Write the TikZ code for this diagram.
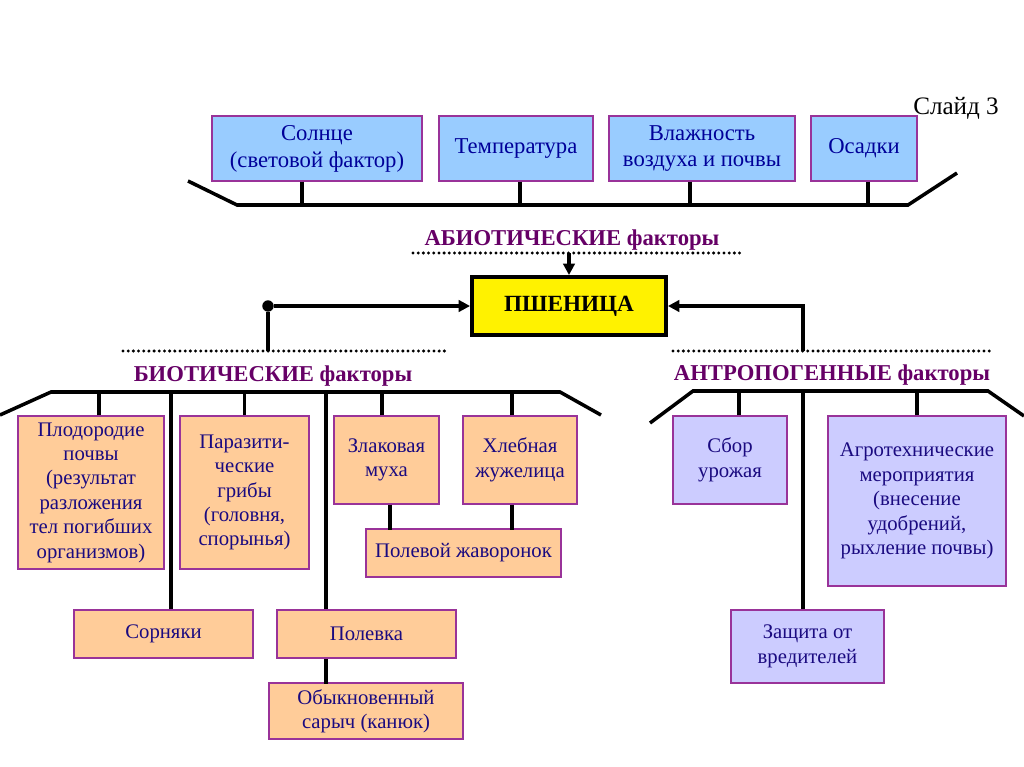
\documentclass[tikz,border=0pt]{standalone}
\usepackage{fontspec}
\setmainfont{Liberation Serif}
\usetikzlibrary{arrows.meta}
\definecolor{skyfill}{HTML}{99CCFF}
\definecolor{peachfill}{HTML}{FFCC99}
\definecolor{lilacfill}{HTML}{CCCCFF}
\definecolor{boxline}{HTML}{993399}
\definecolor{topink}{HTML}{000099}
\definecolor{lowink}{HTML}{1A0A80}
\definecolor{headink}{HTML}{660066}
\tikzset{
    abiotic/.style = {
        rectangle, draw=boxline, line width=0.8pt,
        fill=skyfill, text=topink,
        inner sep=0pt, align=center,
        font=\fontsize{12.9}{15.3}\selectfont
    },
    biotic/.style = {
        rectangle, draw=boxline, line width=0.8pt,
        fill=peachfill, text=lowink,
        inner sep=0pt, align=center,
        font=\fontsize{11.8}{13.9}\selectfont
    },
    anthropic/.style = {
        biotic, fill=lilacfill
    },
    target/.style = {
        rectangle, draw, line width=2.2pt,
        fill=yellow, inner sep=0pt,
        font=\bfseries\fontsize{13.2}{15}\selectfont
    },
    heading/.style = {
        text=headink, anchor=base,
        font=\bfseries\fontsize{12.9}{15}\selectfont
    },
    bar/.style = {
        line width=2pt
    },
    dotline/.style = {
        line width=1.9pt, line cap=round,
        dash pattern=on 0pt off 2.95pt
    },
    arrow/.style = {
        -{Triangle[length=6.5pt, width=6.5pt]}, line width=2pt
    }
}
\begin{document}
\begin{tikzpicture}[x=0.02cm, y=-0.02cm]

\useasboundingbox (0,0) rectangle (1024,767);

\node (slide) [anchor=base, font=\fontsize{14.3}{16}\selectfont] at (956,114) {Слайд 3};

\node (sun) [abiotic, minimum width=4.2cm, minimum height=1.3cm] at (317,148.5) {Солнце\\(световой фактор)};
\node (temp) [abiotic, minimum width=3.08cm, minimum height=1.3cm] at (516,148.5) {Температура};
\node (humid) [abiotic, minimum width=3.72cm, minimum height=1.3cm] at (702,148.5) {Влажность\\воздуха и почвы};
\node (rain) [abiotic, minimum width=2.12cm, minimum height=1.3cm] at (864,148.5) {Осадки};

\node (abio) [heading] at (572,245) {АБИОТИЧЕСКИЕ факторы};
\node (wheat) [target, minimum width=3.88cm, minimum height=1.16cm] at (569,306) {ПШЕНИЦА};
\node (joint) [circle, fill, inner sep=0pt, minimum size=6.5pt] at (268,306) {};
\node (bio) [heading] at (273,381) {БИОТИЧЕСКИЕ факторы};
\node (anthro) [heading] at (832,380) {АНТРОПОГЕННЫЕ факторы};

\coordinate (abiotap) at (569,253);
\coordinate (biotap) at (268,351);
\coordinate (anthrotap) at (803,351);

\node (fert) [biotic, minimum width=2.92cm, minimum height=3.06cm] at (91,492.5) {Плодородие\\почвы\\(результат\\разложения\\тел погибших\\организмов)};
\node (fungi) [biotic, minimum width=2.58cm, minimum height=3.06cm] at (244.5,492.5) {Паразити-\\ческие\\грибы\\(головня,\\спорынья)};
\node (fly) [biotic, minimum width=2.1cm, minimum height=1.76cm] at (386.5,460) {Злаковая\\муха};
\node (beetle) [biotic, minimum width=2.28cm, minimum height=1.76cm] at (520,460) {Хлебная\\жужелица};
\node (lark) [biotic, minimum width=3.9cm, minimum height=0.96cm] at (463.5,553) {Полевой жаворонок};
\node (weeds) [biotic, minimum width=3.58cm, minimum height=0.96cm] at (163.5,634) {Сорняки};
\node (vole) [biotic, minimum width=3.58cm, minimum height=0.96cm] at (366.5,634) {Полевка};
\node (buzzard) [biotic, minimum width=3.88cm, minimum height=1.12cm] at (366,711) {Обыкновенный\\сарыч (канюк)};

\node (harvest) [anthropic, minimum width=2.28cm, minimum height=1.76cm] at (730,460) {Сбор\\урожая};
\node (agro) [anthropic, minimum width=3.56cm, minimum height=3.4cm] at (917,501) {Агротехнические\\мероприятия\\(внесение\\удобрений,\\рыхление почвы)};
\node (pest) [anthropic, minimum width=3.06cm, minimum height=1.46cm] at (807.5,646.5) {Защита от\\вредителей};

\draw [bar] (188,181) -- (237,205) -- (908,205) -- (957,173);
\draw [bar] ([xshift=-0.3cm]sun.south) -- ++(0,24);
\draw [bar] ([xshift=0.08cm]temp.south) -- ++(0,24);
\draw [bar] ([xshift=-0.24cm]humid.south) -- ++(0,24);
\draw [bar] ([xshift=0.08cm]rain.south) -- ++(0,24);

\draw [dotline] (413,253) -- (741,253);
\draw [dotline] (123,351) -- (449,351);
\draw [dotline] (673,351) -- (993,351);

\draw [arrow] (abiotap) -- (wheat.north);
\draw [bar] (biotap) -- (joint);
\draw [arrow] (joint) -- (wheat.west);
\draw [arrow] (anthrotap) |- (wheat.east);

\draw [bar] (0,415) -- (51,392) -- (560,392) -- (601,415);
\draw [bar] ([xshift=0.16cm]fert.north) -- ++(0,-24);
\draw [bar] (fungi.north) -- ++(0,-24);
\draw [bar] ([xshift=-0.09cm]fly.north) -- ++(0,-24);
\draw [bar] ([xshift=-0.16cm]beetle.north) -- ++(0,-24);
\draw [bar] ([xshift=0.15cm]weeds.north) -- ++(0,-218);
\draw [bar] ([xshift=-0.81cm]vole.north) -- ++(0,-218);
\draw [bar] ([xshift=0.07cm]fly.south) -- ++(0,25);
\draw [bar] ([xshift=-0.16cm]beetle.south) -- ++(0,25);
\draw [bar] ([xshift=-0.81cm]vole.south) -- ++(0,25);

\draw [bar] (650,423) -- (693,391) -- (988,391) -- (1024,416);
\draw [bar] ([xshift=0.18cm]harvest.north) -- ++(0,-25);
\draw [bar] (agro.north) -- ++(0,-25);
\draw [bar] ([xshift=-0.09cm]pest.north) -- ++(0,-219);

\end{tikzpicture}
\end{document}
